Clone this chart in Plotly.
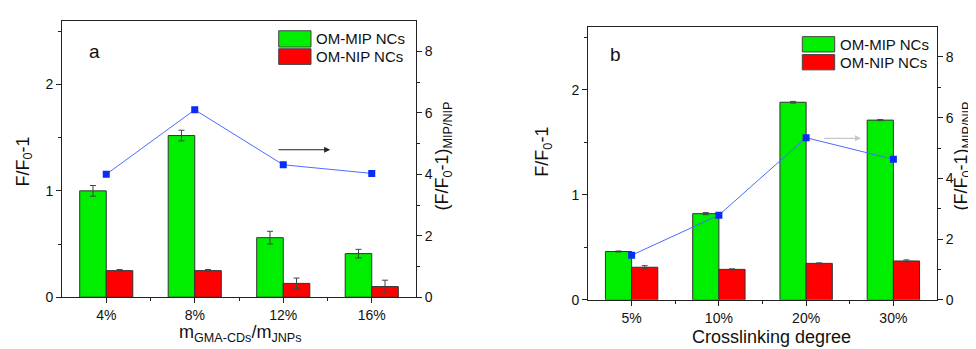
import plotly.graph_objects as go

W, H = 976, 349
FONT = "Liberation Sans, Arial, sans-serif"

# ---------------- data ----------------
cats_a = ["4%", "8%", "12%", "16%"]
mip_a = [1.00, 1.52, 0.56, 0.41]
mip_a_err = [0.05, 0.05, 0.06, 0.04]
nip_a = [0.25, 0.25, 0.13, 0.10]
nip_a_err = [0.01, 0.01, 0.05, 0.06]
ratio_a = [4.0, 6.1, 4.31, 4.03]

cats_b = ["5%", "10%", "20%", "30%"]
mip_b = [0.46, 0.82, 1.88, 1.71]
mip_b_err = [0.005, 0.01, 0.008, 0.005]
nip_b = [0.31, 0.29, 0.347, 0.37]
nip_b_err = [0.015, 0.005, 0.005, 0.01]
ratio_b = [1.47, 2.79, 5.34, 4.63]

GREEN = "#00ee00"
RED = "#ff0000"
BLUE_LINE = "#4d6bff"
BLUE_MARK = "#0a2cf5"


def px2x(p):
    return p / W


def px2y(p):
    return 1 - p / H


fig = go.Figure()


def add_panel(cats, mip, mip_err, nip, nip_err, ratio, xa, ya, ya2):
    idx = list(range(len(cats)))
    fig.add_trace(go.Bar(x=idx, y=mip, name="OM-MIP NCs", marker=dict(color=GREEN, line=dict(color="#333", width=1)),
                         error_y=dict(type="data", array=mip_err, color="#444", thickness=1, width=3),
                         offsetgroup="m", xaxis=xa, yaxis=ya, showlegend=False))
    fig.add_trace(go.Bar(x=idx, y=nip, name="OM-NIP NCs", marker=dict(color=RED, line=dict(color="#333", width=1)),
                         error_y=dict(type="data", array=nip_err, color="#444", thickness=1, width=3),
                         offsetgroup="n", xaxis=xa, yaxis=ya, showlegend=False))
    fig.add_trace(go.Scatter(x=idx, y=ratio, mode="lines+markers",
                             line=dict(color=BLUE_LINE, width=1),
                             marker=dict(symbol="square", size=7, color=BLUE_MARK),
                             xaxis=xa, yaxis=ya2, showlegend=False))


add_panel(cats_a, mip_a, mip_a_err, nip_a, nip_a_err, ratio_a, "x", "y", "y2")
add_panel(cats_b, mip_b, mip_b_err, nip_b, nip_b_err, ratio_b, "x2", "y3", "y4")

tickfont = dict(family=FONT, size=14, color="#111")
axcommon = dict(showline=True, linecolor="#222", linewidth=1, ticks="outside", ticklen=5,
                tickcolor="#222", tickfont=tickfont, showgrid=False, zeroline=False)

dom_ax = [px2x(54), px2x(408)]
dom_ay = [px2y(296), px2y(13)]
dom_bx = [px2x(580), px2x(929)]
dom_by = [px2y(298.7), px2y(19)]


def xaxis(dom, cats, anchor):
    return dict(axcommon, domain=dom, anchor=anchor, range=[-0.5, 3.5], tickvals=list(range(len(cats))),
                ticktext=cats, mirror=True,
                minor=dict(tickvals=[0.5, 1.5, 2.5], ticks="outside", ticklen=3, tickcolor="#222"))


def yleft(dom, anchor):
    return dict(axcommon, domain=dom, anchor=anchor, range=[0, 2.6], tickvals=[0, 1, 2],
                minor=dict(tickvals=[0.5, 1.5, 2.5], ticks="outside", ticklen=3, tickcolor="#222"))


def yright(overlay, anchor):
    return dict(axcommon, overlaying=overlay, anchor=anchor, side="right", range=[0, 9],
                tickvals=[0, 2, 4, 6, 8],
                minor=dict(tickvals=[1, 3, 5, 7], ticks="outside", ticklen=3, tickcolor="#222"))


fig.update_layout(
    width=W, height=H, margin=dict(l=0, r=0, t=0, b=0),
    paper_bgcolor="white", plot_bgcolor="white",
    barmode="group", bargap=0.4, bargroupgap=0,
    font=dict(family=FONT, color="#111"),
    xaxis=xaxis(dom_ax, cats_a, "y"),
    yaxis=yleft(dom_ay, "x"),
    yaxis2=yright("y", "x"),
    xaxis2=xaxis(dom_bx, cats_b, "y3"),
    yaxis3=yleft(dom_by, "x2"),
    yaxis4=yright("y3", "x2"),
)

ann = []
shapes = []
tfont = dict(family=FONT, size=18, color="#111")

# axis titles (as annotations for exact placement)
ann.append(dict(text="F/F<sub>0</sub>-1", x=px2x(16), y=px2y(157), xref="paper", yref="paper",
                textangle=-90, showarrow=False, font=tfont, xanchor="center", yanchor="middle"))
ann.append(dict(text="(F/F<sub>0</sub>-1)<sub>MIP/NIP</sub>", x=px2x(436), y=px2y(152), xref="paper", yref="paper",
                textangle=-90, showarrow=False, font=tfont, xanchor="center", yanchor="middle"))
ann.append(dict(text="m<sub>GMA-CDs</sub>/m<sub>JNPs</sub>", x=px2x(232), y=px2y(333), xref="paper", yref="paper",
                showarrow=False, font=tfont, xanchor="center", yanchor="middle"))
ann.append(dict(text="F/F<sub>0</sub>-1", x=px2x(536), y=px2y(147), xref="paper", yref="paper",
                textangle=-90, showarrow=False, font=tfont, xanchor="center", yanchor="middle"))
ann.append(dict(text="(F/F<sub>0</sub>-1)<sub>MIP/NIP</sub>", x=px2x(955), y=px2y(152), xref="paper", yref="paper",
                textangle=-90, showarrow=False, font=tfont, xanchor="center", yanchor="middle"))
ann.append(dict(text="Crosslinking degree", x=px2x(763), y=px2y(337), xref="paper", yref="paper",
                showarrow=False, font=tfont, xanchor="center", yanchor="middle"))

# panel labels
ann.append(dict(text="a", x=px2x(86), y=px2y(45), xref="paper", yref="paper", showarrow=False,
                font=dict(family=FONT, size=19, color="#111"), xanchor="center", yanchor="middle"))
ann.append(dict(text="b", x=px2x(607), y=px2y(48), xref="paper", yref="paper", showarrow=False,
                font=dict(family=FONT, size=19, color="#111"), xanchor="center", yanchor="middle"))

# arrows pointing to right axis
ann.append(dict(x=2.53, y=4.8, ax=1.93, ay=4.8, xref="x", yref="y2", axref="x", ayref="y2",
                showarrow=True, arrowhead=2, arrowsize=1, arrowwidth=1.2, arrowcolor="#222", text=""))
ann.append(dict(x=2.63, y=5.32, ax=2.19, ay=5.32, xref="x2", yref="y4", axref="x2", ayref="y4",
                showarrow=True, arrowhead=2, arrowsize=1, arrowwidth=1.2, arrowcolor="#c8c8c8", text=""))

# custom legends
lfont = dict(family=FONT, size=15, color="#111")


def legend(x0, x1, yg0, yg1, yr0, yr1, tx):
    shapes.append(dict(type="rect", xref="paper", yref="paper", x0=px2x(x0), x1=px2x(x1), y0=px2y(yg1),
                       y1=px2y(yg0), fillcolor=GREEN, line=dict(color="#444", width=1)))
    shapes.append(dict(type="rect", xref="paper", yref="paper", x0=px2x(x0), x1=px2x(x1), y0=px2y(yr1),
                       y1=px2y(yr0), fillcolor=RED, line=dict(color="#444", width=1)))
    ann.append(dict(text="OM-MIP NCs", x=px2x(tx), y=px2y((yg0 + yg1) / 2), xref="paper", yref="paper",
                    showarrow=False, font=lfont, xanchor="left", yanchor="middle"))
    ann.append(dict(text="OM-NIP NCs", x=px2x(tx), y=px2y((yr0 + yr1) / 2), xref="paper", yref="paper",
                    showarrow=False, font=lfont, xanchor="left", yanchor="middle"))


legend(270.7, 303, 23.3, 40, 41.7, 57.7, 306)
legend(794.3, 826.7, 29.3, 45, 47.7, 63.3, 829.5)

fig.update_layout(annotations=ann, shapes=shapes)
fig.write_html("out.html")
